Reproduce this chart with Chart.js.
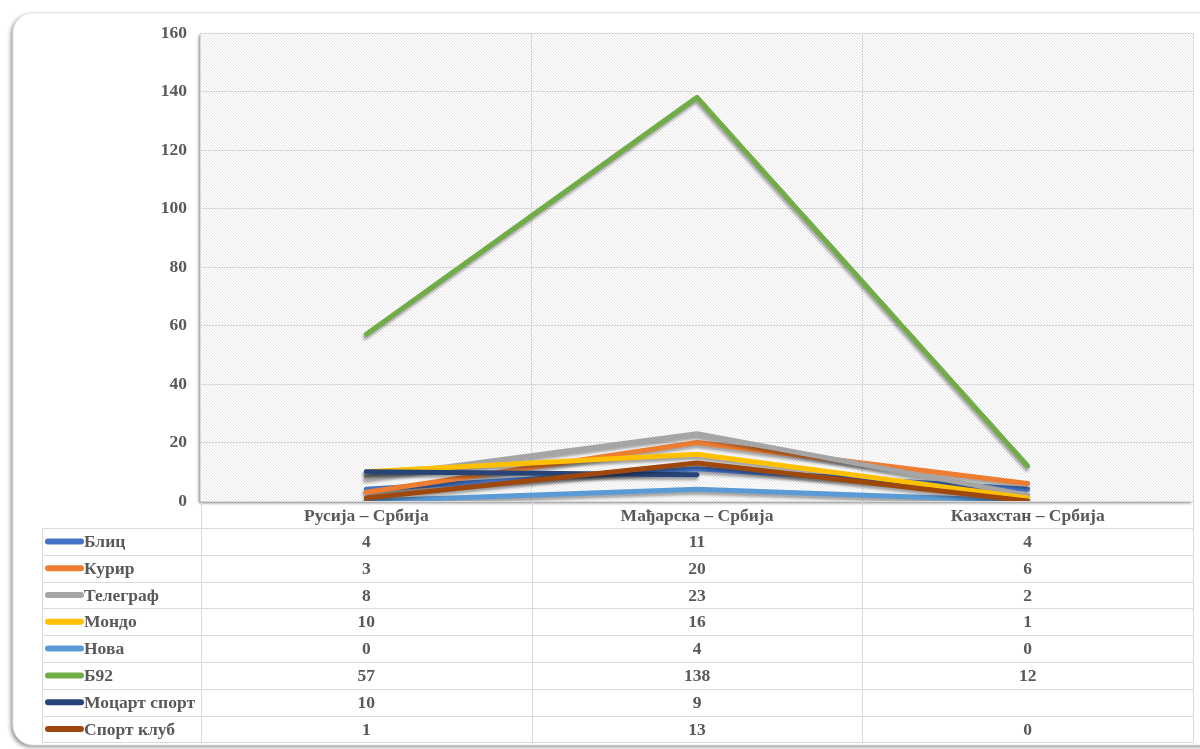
<!DOCTYPE html>
<html>
<head>
<meta charset="utf-8">
<script src="https://cdn.jsdelivr.net/npm/chart.js@4/dist/chart.umd.min.js"></script>
<style>
html, body { margin: 0; padding: 0; background: #fff; }
#wrap { width: 1200px; height: 749px; position: relative; }
</style>
</head>
<body>
<div id="wrap"><canvas id="chart"></canvas></div>
<script>
// categories and series
const matches = ['Русија – Србија', 'Мађарска – Србија', 'Казахстан – Србија'];
const seriesNames = ['Блиц', 'Курир', 'Телеграф', 'Мондо', 'Нова', 'Б92', 'Моцарт спорт', 'Спорт клуб'];
const blic = [4, 11, 4];
const kurir = [3, 20, 6];
const telegraf = [8, 23, 2];
const mondo = [10, 16, 1];
const nova = [0, 4, 0];
const b92 = [57, 138, 12];
const mocart = [10, 9, null];
const sportKlub = [1, 13, 0];
const yTicks = [0, 20, 40, 60, 80, 100, 120, 140, 160];

const seriesValues = [blic, kurir, telegraf, mondo, nova, b92, mocart, sportKlub];
const seriesColors = ['#4472C4', '#ED7D31', '#A5A5A5', '#FFC000', '#5B9BD5', '#70AD47', '#264478', '#9E480E'];

const FONT = "'Liberation Serif', 'Times New Roman', serif";
const FONT_SIZE = 17.5;
const TEXT = '#595959';
const GRID = '#dadada';

function makeHatch() {
    const c = document.createElement('canvas');
    c.width = 3;
    c.height = 3;
    const g = c.getContext('2d');
    g.fillStyle = '#ffffff';
    g.fillRect(0, 0, 3, 3);
    g.strokeStyle = '#e3e3e3';
    g.lineWidth = 1;
    g.beginPath();
    g.moveTo(-1, -1); g.lineTo(4, 4);
    g.moveTo(-1, 2); g.lineTo(1, 4);
    g.moveTo(2, -1); g.lineTo(4, 1);
    g.stroke();
    return c;
}

const backdrop = {
    id: 'backdrop',
    beforeDraw(chart) {
        const { ctx, chartArea: a } = chart;
        ctx.save();
        ctx.fillStyle = '#fff';
        ctx.fillRect(0, 0, chart.width, chart.height);
        // card
        ctx.shadowColor = 'rgba(0,0,0,0.45)';
        ctx.shadowBlur = 4;
        ctx.shadowOffsetX = -2;
        ctx.shadowOffsetY = 2;
        ctx.beginPath();
        ctx.roundRect(13, 13, 1210, 732, 20);
        ctx.fillStyle = '#fff';
        ctx.fill();
        ctx.shadowColor = 'transparent';
        ctx.strokeStyle = '#e6e6e6';
        ctx.lineWidth = 1;
        ctx.stroke();
        // plot area
        ctx.shadowColor = 'rgba(0,0,0,0.5)';
        ctx.shadowBlur = 3;
        ctx.shadowOffsetX = -2;
        ctx.shadowOffsetY = 2;
        ctx.fillStyle = ctx.createPattern(makeHatch(), 'repeat');
        ctx.fillRect(a.left, a.top, a.right - a.left, a.bottom - a.top);
        ctx.restore();
    }
};

const lineShadow = {
    id: 'lineShadow',
    beforeDatasetsDraw(chart) {
        const ctx = chart.ctx;
        ctx.save();
        ctx.shadowColor = 'rgba(0,0,0,0.35)';
        ctx.shadowBlur = 3;
        ctx.shadowOffsetX = -1;
        ctx.shadowOffsetY = 3;
    },
    afterDatasetsDraw(chart) {
        chart.ctx.restore();
    }
};

const dataTable = {
    id: 'dataTable',
    afterDraw(chart) {
        const { ctx, chartArea: a } = chart;
        const x = chart.scales.x;
        const half = (x.getPixelForValue(1) - x.getPixelForValue(0)) / 2;
        const legendLeft = 42;
        const headerBottom = a.bottom + 27;
        const rowH = 26.8;
        const tableBottom = headerBottom + rowH * seriesNames.length;

        ctx.save();
        ctx.strokeStyle = GRID;
        ctx.lineWidth = 1;
        ctx.beginPath();
        for (let i = 0; i <= matches.length; i++) {
            const px = Math.round(x.getPixelForValue(0) - half + i * half * 2) + 0.5;
            ctx.moveTo(px, a.bottom);
            ctx.lineTo(px, tableBottom);
        }
        ctx.moveTo(legendLeft + 0.5, headerBottom);
        ctx.lineTo(legendLeft + 0.5, tableBottom);
        for (let r = 0; r <= seriesNames.length; r++) {
            const py = Math.round(headerBottom + r * rowH) + 0.5;
            ctx.moveTo(legendLeft, py);
            ctx.lineTo(a.right, py);
        }
        ctx.stroke();

        ctx.font = `bold ${FONT_SIZE}px ${FONT}`;
        ctx.textBaseline = 'middle';
        seriesNames.forEach((name, r) => {
            const cy = headerBottom + r * rowH + rowH / 2;
            ctx.strokeStyle = seriesColors[r];
            ctx.lineWidth = 6;
            ctx.lineCap = 'round';
            ctx.beginPath();
            ctx.moveTo(48, cy);
            ctx.lineTo(81, cy);
            ctx.stroke();
            ctx.fillStyle = TEXT;
            ctx.textAlign = 'left';
            ctx.fillText(name, 84, cy + 1);
            ctx.textAlign = 'center';
            seriesValues[r].forEach((v, c) => {
                if (v === null) return;
                ctx.fillText(String(v), x.getPixelForValue(c), cy + 1);
            });
        });
        ctx.restore();
    }
};

new Chart(document.getElementById('chart'), {
    type: 'line',
    data: {
        labels: matches,
        datasets: seriesNames.map((name, i) => ({
            label: name,
            data: seriesValues[i],
            borderColor: seriesColors[i],
            backgroundColor: seriesColors[i],
            borderWidth: 5,
            borderCapStyle: 'round',
            borderJoinStyle: 'round',
            pointRadius: 0,
            tension: 0,
            spanGaps: false,
            order: seriesNames.length - i
        }))
    },
    options: {
        responsive: true,
        maintainAspectRatio: false,
        animation: false,
        layout: { padding: { left: 41, right: 7, top: 33, bottom: 0 } },
        scales: {
            x: {
                offset: true,
                afterFit: (s) => { s.height = 248; },
                grid: { color: GRID, offset: true, drawTicks: false },
                border: { display: false },
                ticks: { color: TEXT, padding: 5, font: { family: FONT, size: FONT_SIZE, weight: 'bold' } }
            },
            y: {
                min: 0,
                max: 160,
                afterFit: (s) => { s.width = 160; },
                afterBuildTicks: (s) => { s.ticks = yTicks.map((v) => ({ value: v })); },
                grid: { color: GRID, drawTicks: false },
                border: { display: false },
                ticks: { color: TEXT, padding: 14, font: { family: FONT, size: FONT_SIZE, weight: 'bold' } }
            }
        },
        plugins: {
            legend: { display: false },
            tooltip: { enabled: false }
        }
    },
    plugins: [backdrop, lineShadow, dataTable]
});
</script>
</body>
</html>
